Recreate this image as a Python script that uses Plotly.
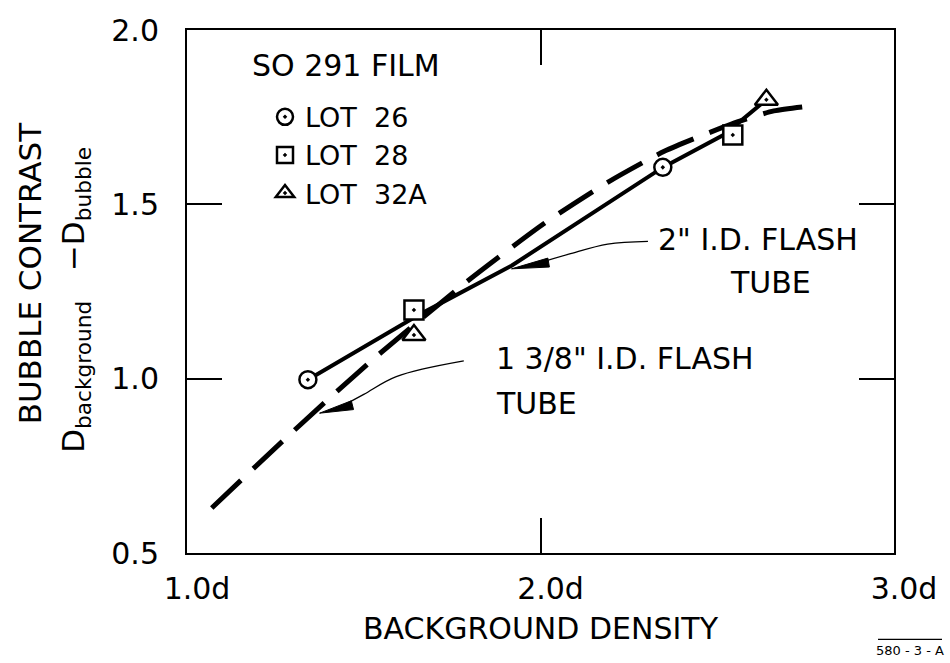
import plotly.graph_objects as go

# ---- data ----
lot26_x = [1.342, 2.346]
lot26_y = [0.997, 1.606]
lot28_x = [1.642, 2.544]
lot28_y = [1.197, 1.699]
lot32a_x = [1.642, 2.639]
lot32a_y = [1.125, 1.800]

# 2" I.D. flash tube curve (solid)
tube2_x = [1.342, 1.45, 1.656, 1.918, 2.346, 2.52, 2.639]
tube2_y = [0.997, 1.061, 1.183, 1.324, 1.606, 1.70, 1.80]

# 1 3/8" I.D. flash tube curve (dashed)
tube138_x = [1.07, 1.28, 1.52, 1.79, 2.01, 2.19, 2.35, 2.54, 2.66, 2.772]
tube138_y = [0.629, 0.83, 1.05, 1.277, 1.445, 1.563, 1.652, 1.73, 1.768, 1.783]

x_ticks = [1.0, 2.0, 3.0]
x_ticktext = ["1.0d", "2.0d", "3.0d"]
y_ticks = [0.5, 1.0, 1.5, 2.0]
y_ticktext = ["0.5", "1.0", "1.5", "2.0"]

# callout arrows (curve points, arrow tip, arrow head base)
arrow2_x = [2.304, 2.19, 2.08, 1.99]
arrow2_y = [1.394, 1.386, 1.357, 1.330]
arrow2_tip = (1.918, 1.315)
arrow2_base = (2.023, 1.333)

arrow138_x = [1.783, 1.592, 1.50, 1.44]
arrow138_y = [1.051, 1.006, 0.955, 0.922]
arrow138_tip = (1.375, 0.901)
arrow138_base = (1.468, 0.924)

FONT = "DejaVu Sans"
BLACK = "black"

fig = go.Figure()

# curves
fig.add_trace(go.Scatter(x=tube138_x, y=tube138_y, mode="lines", showlegend=False,
                         line=dict(color=BLACK, width=5, dash="40px,17px", shape="spline", smoothing=0.6),
                         hoverinfo="skip"))
fig.add_trace(go.Scatter(x=tube2_x, y=tube2_y, mode="lines", showlegend=False,
                         line=dict(color=BLACK, width=4), hoverinfo="skip"))

# arrow curves
for ax_, ay_ in [(arrow2_x, arrow2_y), (arrow138_x, arrow138_y)]:
    fig.add_trace(go.Scatter(x=ax_, y=ay_, mode="lines", showlegend=False,
                             line=dict(color=BLACK, width=1.3, shape="spline"), hoverinfo="skip"))

# markers
fig.add_trace(go.Scatter(x=lot26_x, y=lot26_y, mode="markers", name="LOT  26",
                         marker=dict(symbol="circle-dot", size=17, color="white",
                                     line=dict(color=BLACK, width=2.5))))
fig.add_trace(go.Scatter(x=lot28_x, y=lot28_y, mode="markers", name="LOT  28",
                         marker=dict(symbol="square-dot", size=19, color="white",
                                     line=dict(color=BLACK, width=2.5))))
fig.add_trace(go.Scatter(x=lot32a_x, y=lot32a_y, mode="markers", name="LOT  32A",
                         marker=dict(symbol="triangle-up-dot", size=20, color="white",
                                     line=dict(color=BLACK, width=2.5))))

# arrowheads as filled narrow triangles
shapes = []
for tip, base in [(arrow2_tip, arrow2_base), (arrow138_tip, arrow138_base)]:
    dx, dy = base[0] - tip[0], base[1] - tip[1]
    L = (dx * dx + dy * dy) ** 0.5
    px, py = -dy / L, dx / L
    hw = 0.013
    p1 = (base[0] + px * hw, base[1] + py * hw)
    p2 = (base[0] - px * hw, base[1] - py * hw)
    shapes.append(dict(type="path", xref="x", yref="y",
                       path=f"M{tip[0]},{tip[1]} L{p1[0]},{p1[1]} L{p2[0]},{p2[1]} Z",
                       fillcolor=BLACK, line=dict(color=BLACK, width=1)))

# overline of the figure code
shapes.append(dict(type="line", xref="paper", yref="paper",
                   x0=(878 - 187) / 707, x1=(942 - 187) / 707,
                   y0=(553 - 641) / 533, y1=(553 - 641) / 533,
                   line=dict(color=BLACK, width=1.2)))

annotations = [
    dict(text="SO 291 FILM", x=(250 - 187) / 707, y=(553 - 56) / 533, xref="paper", yref="paper",
         xanchor="left", yanchor="middle", showarrow=False, font=dict(size=30)),
    dict(text="2\" I.D. FLASH", x=2.327, y=1.40, xref="x", yref="y",
         xanchor="left", yanchor="middle", showarrow=False, font=dict(size=30)),
    dict(text="TUBE", x=2.53, y=1.276, xref="x", yref="y",
         xanchor="left", yanchor="middle", showarrow=False, font=dict(size=30)),
    dict(text="1 3/8\" I.D. FLASH", x=1.868, y=1.059, xref="x", yref="y",
         xanchor="left", yanchor="middle", showarrow=False, font=dict(size=30)),
    dict(text="TUBE", x=1.868, y=0.930, xref="x", yref="y",
         xanchor="left", yanchor="middle", showarrow=False, font=dict(size=30)),
    dict(text="BACKGROUND DENSITY", x=0.5, y=(553 - 630) / 533, xref="paper", yref="paper",
         xanchor="center", yanchor="middle", showarrow=False, font=dict(size=30)),
    dict(text="BUBBLE CONTRAST", x=(30 - 187) / 707, y=(553 - 268) / 533, xref="paper", yref="paper",
         xanchor="center", yanchor="middle", textangle=-90, showarrow=False, font=dict(size=31)),
    dict(text="D<sub>background</sub>   \u2212D<sub>bubble</sub>", x=(76 - 187) / 707,
         y=(553 - 295) / 533, xref="paper", yref="paper",
         xanchor="center", yanchor="middle", textangle=-90, showarrow=False, font=dict(size=31)),
    dict(text="580 - 3 - A", x=(910 - 187) / 707, y=(553 - 652) / 533, xref="paper", yref="paper",
         xanchor="center", yanchor="middle", showarrow=False, font=dict(size=13)),
]

axis_common = dict(showline=True, linewidth=2, linecolor=BLACK, mirror="ticks",
                   ticks="inside", ticklen=35, tickwidth=2, tickcolor=BLACK,
                   showgrid=False, zeroline=False, tickfont=dict(size=30, color=BLACK))

fig.update_layout(
    width=950, height=663,
    margin=dict(l=187, r=56, t=20, b=110),
    paper_bgcolor="white", plot_bgcolor="white",
    font=dict(family=FONT, color=BLACK),
    showlegend=True,
    legend=dict(font=dict(size=27), x=(265 - 187) / 707, y=(553 - 84) / 533,
                xanchor="left", yanchor="top", bgcolor="rgba(0,0,0,0)",
                tracegroupgap=0, itemwidth=30),
    xaxis=dict(range=[1.0, 3.0], tickvals=x_ticks, ticktext=x_ticktext,
               ticklabelstandoff=8, ticklabelshift=10, **axis_common),
    yaxis=dict(range=[0.5, 2.0], tickvals=y_ticks, ticktext=y_ticktext,
               ticklabelstandoff=20, **axis_common),
    shapes=shapes,
    annotations=annotations,
)

fig.write_html("out.html")
